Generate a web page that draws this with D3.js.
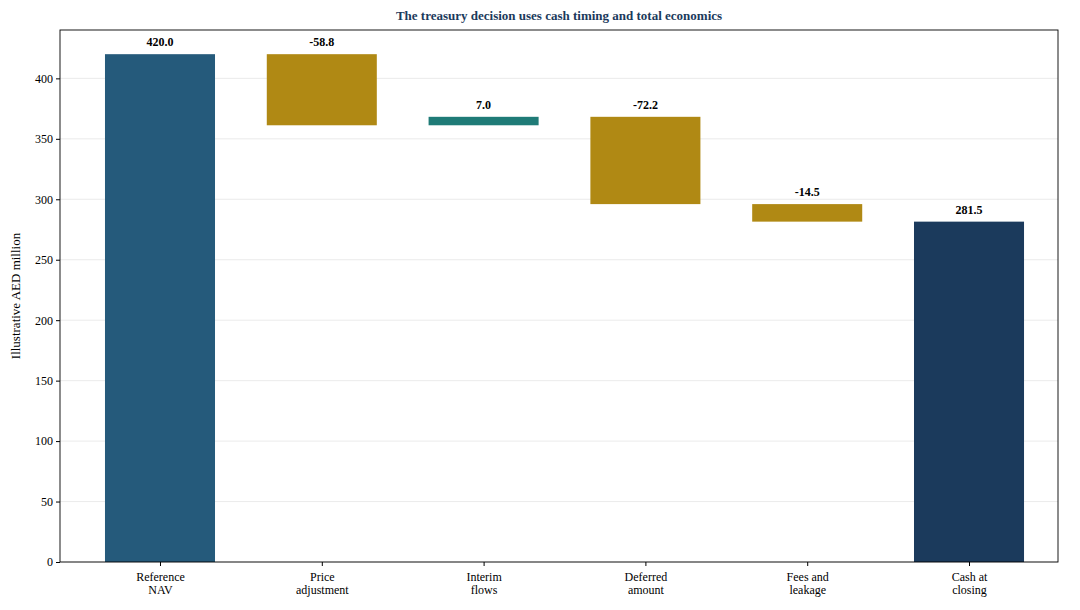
<!DOCTYPE html>
<meta charset="utf-8">
<script src="https://d3js.org/d3.v7.min.js"></script>
<style>body{margin:0;background:#fff}</style>
<div id="chart"></div>
<script>
// waterfall data
const categories = ["Reference\nNAV", "Price\nadjustment", "Interim\nflows", "Deferred\namount", "Fees and\nleakage", "Cash at\nclosing"];
const values = [420.0, -58.8, 7.0, -72.2, -14.5, 281.5];
const kinds = ["total", "delta", "delta", "delta", "delta", "total"];
const yTicks = [0, 50, 100, 150, 200, 250, 300, 350, 400];

const width = 1080, height = 610;
const margin = {top: 30, right: 22, bottom: 48, left: 60};
const colours = {start: "#255a7b", neg: "#b08914", pos: "#1f7b77", end: "#1b3a5c"};

const svg = d3.select("#chart").append("svg")
  .attr("width", width).attr("height", height)
  .style("font-family", "'Liberation Serif', serif");

const x = d3.scaleLinear().domain([-0.618, 5.55]).range([margin.left, width - margin.right]);
const y = d3.scaleLinear().domain([0, 440]).range([height - margin.bottom, margin.top]);
const bw = x(0.68) - x(0);

// build running totals
let run = 0;
const bars = values.map((v, i) => {
  let lo, hi, col;
  if (kinds[i] === "total") {
    lo = 0; hi = v; run = v;
    col = i === 0 ? colours.start : colours.end;
  } else {
    const s = run; run += v;
    lo = Math.min(s, run); hi = Math.max(s, run);
    col = v < 0 ? colours.neg : colours.pos;
  }
  return {i, v, lo, hi, col};
});

// grid
svg.append("g").selectAll("line").data(yTicks).join("line")
  .attr("x1", margin.left).attr("x2", width - margin.right)
  .attr("y1", d => y(d)).attr("y2", d => y(d))
  .attr("stroke", "#e6e6e6").attr("stroke-width", 0.8);

svg.append("g").selectAll("rect").data(bars).join("rect")
  .attr("x", d => x(d.i) - bw / 2).attr("width", bw)
  .attr("y", d => y(d.hi)).attr("height", d => y(d.lo) - y(d.hi))
  .attr("fill", d => d.col);

svg.append("g").selectAll("text").data(bars).join("text")
  .attr("x", d => x(d.i)).attr("y", d => y(d.hi) - 8)
  .attr("text-anchor", "middle").attr("font-size", 12).attr("font-weight", "bold")
  .text(d => d.v.toFixed(1));

// axes
const yAxis = svg.append("g").attr("transform", `translate(${margin.left},0)`)
  .call(d3.axisLeft(y).tickValues(yTicks).tickSize(4));
yAxis.select(".domain").remove();
yAxis.selectAll("text").attr("font-size", 12).attr("font-family", "'Liberation Serif', serif").attr("fill", "#000");

const xAxis = svg.append("g").attr("transform", `translate(0,${height - margin.bottom})`)
  .call(d3.axisBottom(x).tickValues(d3.range(6)).tickSize(4).tickFormat(""));
xAxis.select(".domain").remove();
xAxis.selectAll(".tick").each(function(d) {
  const t = d3.select(this).append("text").attr("fill", "#000").attr("font-size", 12)
    .attr("text-anchor", "middle").attr("font-family", "'Liberation Serif', serif");
  categories[d].split("\n").forEach((line, k) => {
    t.append("tspan").attr("x", 0).attr("y", 19 + k * 13).text(line);
  });
});

// frame
svg.append("rect").attr("x", margin.left).attr("y", margin.top)
  .attr("width", width - margin.left - margin.right).attr("height", height - margin.top - margin.bottom)
  .attr("fill", "none").attr("stroke", "#000").attr("stroke-width", 0.9);

svg.append("text").attr("x", (margin.left + width - margin.right) / 2).attr("y", 20)
  .attr("text-anchor", "middle").attr("font-size", 13).attr("font-weight", "bold").attr("fill", "#1b3a5c")
  .text("The treasury decision uses cash timing and total economics");

svg.append("text").attr("transform", `translate(20,${(margin.top + height - margin.bottom) / 2}) rotate(-90)`)
  .attr("text-anchor", "middle").attr("font-size", 13)
  .text("Illustrative AED million");
</script>
